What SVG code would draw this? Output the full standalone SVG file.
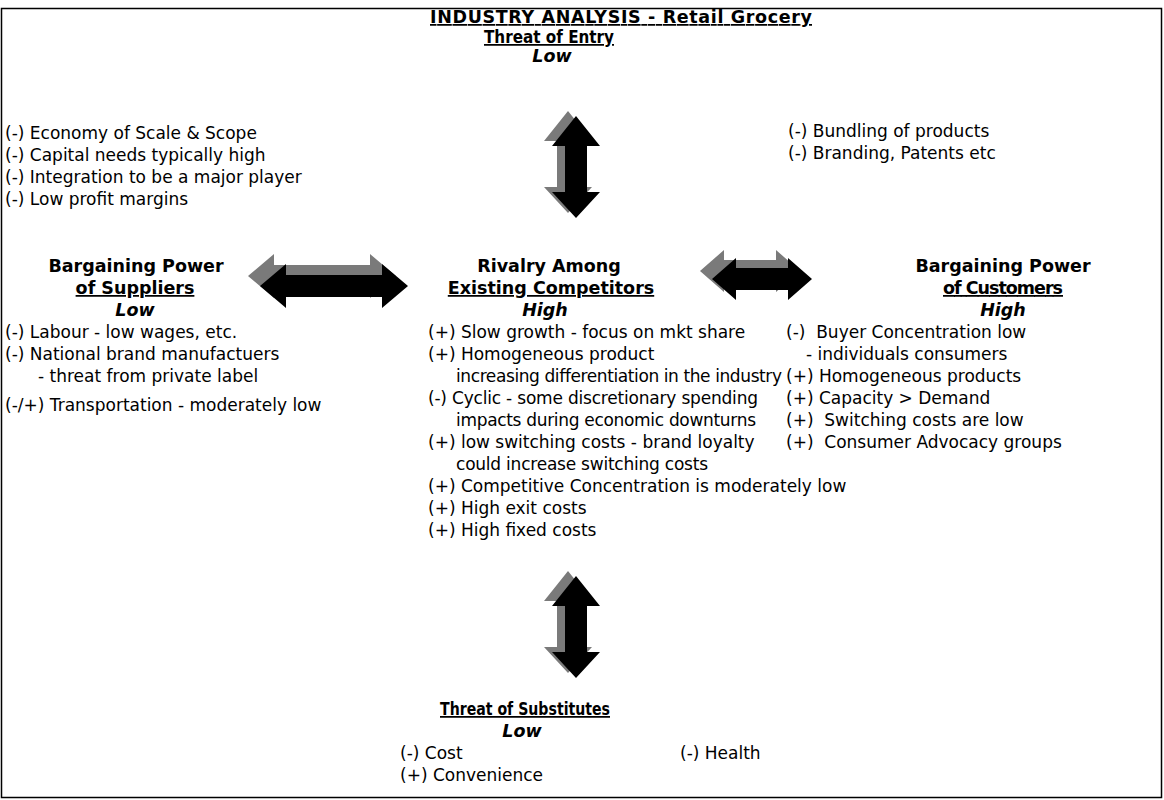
<svg xmlns="http://www.w3.org/2000/svg" width="1164" height="800" viewBox="0 0 1164 800">
<style>
text{font-family:"DejaVu Sans","Verdana",sans-serif;font-size:17px;fill:#000}
.h{font-weight:bold;font-size:17.5px}
.u{text-decoration:underline}
.i{font-style:italic;font-weight:bold;font-size:17.5px}
.c{text-anchor:middle}
.blk{fill:#000}
.gry{fill:#7a7a7a}
</style>
<rect x="1.5" y="8.5" width="1160" height="789" fill="#fff" stroke="#000" stroke-width="1.5"/>
<g id="title">
<text x="621" y="23" class="h u c" textLength="382">INDUSTRY ANALYSIS - Retail Grocery</text>
</g>
<g id="entry">
<text x="549" y="43" class="h u c" textLength="130" lengthAdjust="spacingAndGlyphs">Threat of Entry</text>
<text x="552" y="62" class="i c">Low</text>
<text x="5" y="139">(-) Economy of Scale &amp; Scope</text>
<text x="5" y="161">(-) Capital needs typically high</text>
<text x="5" y="183">(-) Integration to be a major player</text>
<text x="5" y="205">(-) Low profit margins</text>
<text x="788" y="137">(-) Bundling of products</text>
<text x="788" y="159">(-) Branding, Patents etc</text>
</g>
<g id="suppliers">
<text x="136" y="272" class="h c">Bargaining Power</text>
<text x="135" y="294" class="h u c">of Suppliers</text>
<text x="135" y="316" class="i c">Low</text>
<text x="5" y="338">(-) Labour - low wages, etc.</text>
<text x="5" y="360">(-) National brand manufactuers</text>
<text x="38" y="382">- threat from private label</text>
<text x="5" y="411">(-/+) Transportation - moderately low</text>
</g>
<g id="rivalry">
<text x="549" y="272" class="h c">Rivalry Among</text>
<text x="551" y="294" class="h u c">Existing Competitors</text>
<text x="545" y="316" class="i c">High</text>
<text x="428" y="338">(+) Slow growth - focus on mkt share</text>
<text x="428" y="360">(+) Homogeneous product</text>
<text x="456" y="382" textLength="326">increasing differentiation in the industry</text>
<text x="428" y="404" textLength="330">(-) Cyclic - some discretionary spending</text>
<text x="456" y="426" textLength="300">impacts during economic downturns</text>
<text x="428" y="448">(+) low switching costs - brand loyalty</text>
<text x="456" y="470" textLength="252">could increase switching costs</text>
<text x="428" y="492">(+) Competitive Concentration is moderately low</text>
<text x="428" y="514">(+) High exit costs</text>
<text x="428" y="536">(+) High fixed costs</text>
</g>
<g id="customers">
<text x="1003" y="272" class="h c">Bargaining Power</text>
<text x="1003" y="294" class="h u c" textLength="120">of Customers</text>
<text x="1003" y="316" class="i c">High</text>
<text x="786" y="338" xml:space="preserve">(-)  Buyer Concentration low</text>
<text x="806" y="360">- individuals consumers</text>
<text x="786" y="382">(+) Homogeneous products</text>
<text x="786" y="404">(+) Capacity &gt; Demand</text>
<text x="786" y="426" xml:space="preserve">(+)  Switching costs are low</text>
<text x="786" y="448" xml:space="preserve">(+)  Consumer Advocacy groups</text>
</g>
<g id="substitutes">
<text x="525" y="715" class="h u c" textLength="170" lengthAdjust="spacingAndGlyphs">Threat of Substitutes</text>
<text x="522" y="737" class="i c">Low</text>
<text x="400" y="759">(-) Cost</text>
<text x="680" y="759">(-) Health</text>
<text x="400" y="781">(+) Convenience</text>
</g>
<g id="connectors">
<polygon class="gry" points="568,111 592,141 579,141 579,187 592,187 568,213 544,187 557,187 557,141 544,141"/>
<polygon class="blk" points="576,116 600,146 587,146 587,192 600,192 576,218 552,192 565,192 565,146 552,146"/>
<polygon class="gry" points="568,571 592,601 579,601 579,647 592,647 568,673 544,647 557,647 557,601 544,601"/>
<polygon class="blk" points="576,576 600,606 587,606 587,652 600,652 576,678 552,652 565,652 565,606 552,606"/>
<polygon class="gry" points="248,276 274,254 274,265 370,265 370,254 396,276 370,298 370,287 274,287 274,298"/>
<polygon class="blk" points="260,286 286,264 286,275 382,275 382,264 408,286 382,308 382,297 286,297 286,308"/>
<polygon class="gry" points="700,271 724,250 724,260 776,260 776,250 800,271 776,292 776,282 724,282 724,292"/>
<polygon class="blk" points="712,279 736,258 736,268 788,268 788,258 812,279 788,300 788,290 736,290 736,300"/>
</g>
</svg>
